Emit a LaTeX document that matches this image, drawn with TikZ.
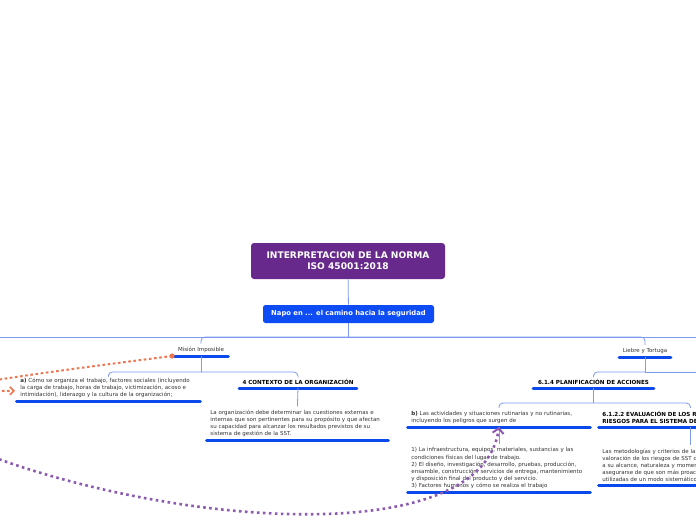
\documentclass[tikz,border=0pt]{standalone}
\usepackage{fontspec}
\setmainfont{DejaVu Sans}
\usepackage{tikz}
\usetikzlibrary{positioning,arrows.meta}

\begin{document}
\begin{tikzpicture}[x=1pt, y=-1pt, line width=0.8pt,
  rootbox/.style={fill=rootc, rounded corners=3pt, text=white, align=center, font=\fontsize{9.1}{11}\selectfont\bfseries, minimum width=194pt, minimum height=36pt},
  mainbox/.style={fill=mainc, rounded corners=2.5pt, text=white, font=\fontsize{6.8}{8}\selectfont\bfseries, minimum width=171pt, minimum height=18pt},
  head/.style={anchor=south, inner xsep=0pt, inner ysep=3pt, text=black, font=\fontsize{5.6}{7}\selectfont\bfseries},
  lbl/.style={head, text=txt, font=\fontsize{5.5}{7}\selectfont},
  para/.style={anchor=south west, align=left, inner xsep=5pt, inner ysep=3pt, text=txt, font=\fontsize{5.5}{7.1}\selectfont},
  bpara/.style={para, text=black, font=\fontsize{5.6}{7.1}\selectfont\bfseries},
  uline/.style={ulc, line width=3pt, line cap=round},
  link/.style={linkc, line width=0.8pt, rounded corners=4pt},
  orng/.style={orc, line width=2pt, dash pattern=on 2.6pt off 2.6pt, -{Straight Barb[length=4pt, width=8pt, line width=1.6pt]}},
  prpl/.style={prc, line width=2.6pt, dash pattern=on 2.6pt off 3.4pt, -{Straight Barb[length=5pt, width=11pt, line width=2pt]}},
]
\definecolor{rootc}{HTML}{67298C}
\definecolor{mainc}{HTML}{0D4CF4}
\definecolor{ulc}{HTML}{0B49EC}
\definecolor{linkc}{HTML}{7D9AEF}
\definecolor{orc}{HTML}{EE7650}
\definecolor{prc}{HTML}{8C5BAF}
\definecolor{txt}{HTML}{333333}
\useasboundingbox (0,0) rectangle (696,520);
\fill[white] (0,0) rectangle (696,520);
\clip (0,0) rectangle (696,520);

% ---------------- root and main topic ----------------
\node[rootbox] (root) at (348,261) {INTERPRETACION DE LA NORMA\\ISO 45001:2018};
\node[mainbox] (napo) at (348.5,314) {Napo en ... el camino hacia la seguridad};

% ---------------- left branch ----------------
\node[lbl, minimum width=57pt] (mision) at (201,356) {Misión Imposible};
\node[para, text width=176pt] (ca) at (15,401) {\textbf{a)} Cómo se organiza el trabajo, factores sociales (incluyendo\\la carga de trabajo, horas de trabajo, victimización, acoso e\\intimidación), liderazgo y la cultura de la organización;};
\node[head, minimum width=120pt] (ctx) at (298,388) {4 CONTEXTO DE LA ORGANIZACIÓN};
\node[para, text width=174pt] (ctxp) at (205,440) {La organización debe determinar las cuestiones externas e\\internas que son pertinentes para su propósito y que afectan\\su capacidad para alcanzar los resultados previstos de su\\sistema de gestión de la SST.};

% ---------------- right branch ----------------
\node[lbl, minimum width=54pt] (liebre) at (645,357) {Liebre y Tortuga};
\node[head, minimum width=123pt] (plan) at (593.5,388) {6.1.4 PLANIFICACIÓN DE ACCIONES};
\node[para, text width=175pt] (cb) at (406,427) {\textbf{b)} Las actividades y situaciones rutinarias y no rutinarias,\\incluyendo los peligros que surgen de};
\node[para, text width=175pt] (cbp) at (406,492) {1) La infraestructura, equipos, materiales, sustancias y las\\condiciones físicas del lugar de trabajo.\\2) El diseño, investigación, desarrollo, pruebas, producción,\\ensamble, construcción, servicios de entrega, mantenimiento\\y disposición final del producto y del servicio.\\3) Factores humanos y cómo se realiza el trabajo};
\node[bpara, text width=176pt] (eval) at (597,427) {\mbox{6.1.2.2 EVALUACIÓN DE LOS RIESGOS PARA LA SST Y OTROS}\\\mbox{RIESGOS PARA EL SISTEMA DE GESTIÓN DE LA SST}};
\node[para, text width=176pt] (evalp) at (597,485) {Las metodologías y criterios de la evaluación y\\valoración de los riesgos de SST deben definirse\\a su alcance, naturaleza y momento en el tiempo\\asegurarse de que son más proactivas que\\utilizadas de un modo sistemático.};

% underlines
\foreach \n in {mision,ca,ctx,ctxp,liebre,plan,cb,cbp,eval,evalp}
  \draw[uline] ([xshift=1.5pt]\n.south west) -- ([xshift=-1.5pt]\n.south east);

% ---------------- tree links ----------------
\coordinate (bus) at (348.5,337);
\coordinate (busl) at (-10,337);
\coordinate (busr) at (706,337);
\draw[link] (root) -- (napo);
\draw[link] (napo.south) -- (bus);
\draw[link] (busl) -- (busr);
\draw[link] (bus) -| (mision.north);
\draw[link] (bus) -| (liebre.north);
\coordinate (mbus) at (201,372);
\draw[link] (mision.south) -- (mbus);
\draw[link] (mbus) -| (ca.north);
\draw[link] (mbus) -| (ctx.north);
\draw[link] (ctx.south) -- (ctxp.north);
\coordinate (lbus) at (645,372);
\coordinate (lbr) at (710,372);
\draw[link] (liebre.south) -- (lbus);
\draw[link] (lbus) -| (plan.north);
\draw[link] (lbus) -- (lbr);
\coordinate (pbus) at (593.5,403);
\draw[link] (plan.south) -- (pbus);
\draw[link] (pbus) -| (cb.north);
\draw[link] (pbus) -| (eval.north);
\draw[link] (cb.south) -- (cbp.north);
\draw[link] (eval.south) -- (evalp.north);

% ---------------- relationship lines ----------------
\fill[orc] (mision.south west) circle (2.6pt);
\draw[orng] (mision.south west) .. controls (-80,388) and (-80,393) .. ([yshift=-3pt]ca.west);
\coordinate (pstart) at (-40,444);
\draw[prpl] (pstart) .. controls (150,525) and (482,555) .. (cb.south);
\end{tikzpicture}
\end{document}
